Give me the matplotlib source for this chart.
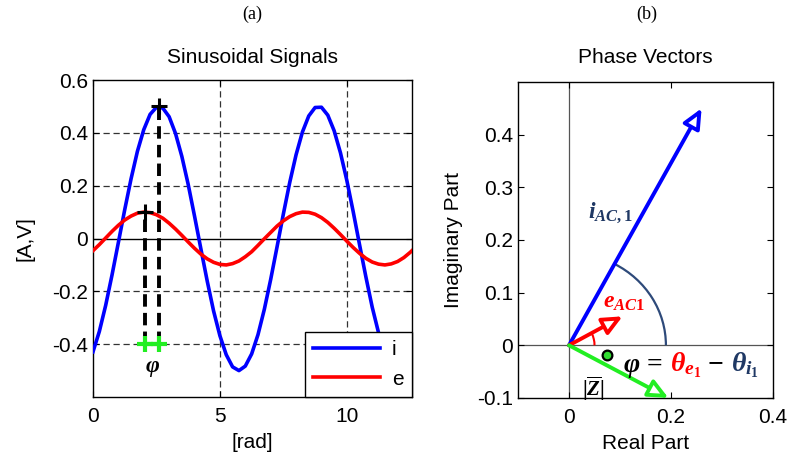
import numpy as np
import matplotlib
matplotlib.use("Agg")
import matplotlib.pyplot as plt
from matplotlib import transforms
from matplotlib.patches import Arc

plt.rcParams.update({
    "font.family": ["Liberation Sans", "DejaVu Sans"],
    "mathtext.fontset": "custom",
    "mathtext.it": "Liberation Serif:italic:bold",
    "mathtext.rm": "Liberation Serif:bold",
    "mathtext.bf": "Liberation Serif:bold",
})

# ---------------- data ----------------
x_rad = [0.0, 0.25, 0.5, 0.75, 1.0, 1.25, 1.5, 1.75, 2.0, 2.25, 2.5, 2.75,
         3.0, 3.25, 3.5, 3.75, 4.0, 4.25, 4.5, 4.75, 5.0, 5.25, 5.5, 5.75,
         6.0, 6.25, 6.5, 6.75, 7.0, 7.25, 7.5, 7.75, 8.0, 8.25, 8.5, 8.75,
         9.0, 9.25, 9.5, 9.75, 10.0, 10.25, 10.5, 10.75, 11.0, 11.25, 11.5,
         11.75, 12.0, 12.25, 12.5, 12.75]
i_vals = [-0.429, -0.352, -0.253, -0.138, -0.015, 0.109, 0.226, 0.330, 0.412,
          0.470, 0.497, 0.494, 0.461, 0.398, 0.311, 0.205, 0.085, -0.039,
          -0.161, -0.274, -0.368, -0.440, -0.486, -0.500, -0.483, -0.437,
          -0.364, -0.268, -0.155, -0.032, 0.093, 0.212, 0.317, 0.403, 0.464,
          0.496, 0.497, 0.467, 0.408, 0.324, 0.220, 0.102, -0.023, -0.145,
          -0.260, -0.357, -0.432, -0.481, -0.500, -0.487, -0.443, -0.373]
e_vals = [-0.046, -0.023, 0.002, 0.027, 0.050, 0.070, 0.085, 0.096, 0.100,
          0.098, 0.090, 0.077, 0.058, 0.036, 0.012, -0.013, -0.037, -0.059,
          -0.077, -0.090, -0.098, -0.100, -0.095, -0.085, -0.069, -0.050,
          -0.026, -0.001, 0.023, 0.047, 0.067, 0.083, 0.094, 0.100, 0.099,
          0.092, 0.079, 0.061, 0.039, 0.015, -0.010, -0.034, -0.056, -0.075,
          -0.089, -0.097, -0.100, -0.096, -0.087, -0.072, -0.052, -0.029]
series_labels = ["i", "e"]
e_peak = (2.05, 0.10)
i_peak = (2.60, 0.50)
phi_level = -0.4

left_xticks = [0, 5, 10]
left_yticks = [-0.4, -0.2, 0, 0.2, 0.4, 0.6]

# phasor tips (real, imag)
i_vec = (0.26, 0.45)
e_vec = (0.105, 0.055)
z_vec = (0.195, -0.10)
z_dot = (0.074, -0.019)
right_xticks = [0, 0.2, 0.4]
right_yticks = [-0.1, 0, 0.1, 0.2, 0.3, 0.4]

BLUE = "#0000FF"
RED = "#FF0000"
GREEN = "#22EE22"
NAVY = "#1F3864"
ARC = "#2E4A7A"

fig = plt.figure(figsize=(7.9, 4.61), dpi=100)
ax1 = fig.add_axes([0.1177, 0.1388, 0.4038, 0.6876])
ax2 = fig.add_axes([0.6557, 0.1367, 0.3228, 0.6855])

FS = 15

# ---------------- left panel ----------------
ax1.set_xlim(0, 4 * np.pi)
ax1.set_ylim(-0.6, 0.6)
for gx in [5, 10]:
    ax1.axvline(gx, color="#333333", lw=0.9, dashes=(5, 3), zorder=1)
for gy in [-0.4, -0.2, 0.2, 0.4]:
    ax1.axhline(gy, color="#333333", lw=0.9, dashes=(5, 3), zorder=1)
ax1.axhline(0, color="black", lw=1.0, zorder=1)

ax1.plot(x_rad, i_vals, color=BLUE, lw=2.6, label=series_labels[0], zorder=3)
ax1.plot(x_rad, e_vals, color=RED, lw=2.6, label=series_labels[1], zorder=3)

for px, py in [e_peak, i_peak]:
    ax1.plot([px, px], [phi_level, py], color="black", lw=2.8, dashes=(3.2, 1.6), zorder=4)
    ax1.plot([px], [py], marker="+", color="black", ms=12, mew=2.2, zorder=5)
ax1.plot([e_peak[0], i_peak[0]], [phi_level, phi_level], color=GREEN, lw=3,
         marker="+", ms=11, mew=3, zorder=5)
ax1.text((e_peak[0] + i_peak[0]) / 2, -0.49, r"$\varphi$", ha="center", va="center",
         fontsize=17, color="black")

ax1.set_xticks(left_xticks)
ax1.set_yticks(left_yticks)
ax1.set_yticklabels(["-0.4", "-0.2", "0", "0.2", "0.4", "0.6"])
ax1.tick_params(direction="in", top=True, right=True, labelsize=FS, length=4)
ax1.tick_params(axis="x", pad=7)
ax1.set_xlabel("[rad]", fontsize=FS, labelpad=5)
ax1.set_ylabel("[A,V]", fontsize=FS, labelpad=13)
ax1.set_title("Sinusoidal Signals", fontsize=FS, pad=12)
leg = ax1.legend(loc="lower right", fontsize=FS, frameon=True, fancybox=False,
                 edgecolor="black", framealpha=1, borderaxespad=0,
                 handlelength=3.2, handletextpad=0.6, borderpad=0.4,
                 labelspacing=0.5)
leg.get_frame().set_linewidth(1.0)
leg.set_zorder(10)

# ---------------- right panel ----------------
ax2.set_xlim(-0.1, 0.4)
ax2.set_ylim(-0.1, 0.5)
ax2.axvline(0, color="#555555", lw=0.9, zorder=1)
ax2.axhline(0, color="#555555", lw=0.9, zorder=1)

ang_i = np.degrees(np.arctan2(i_vec[1], i_vec[0]))
ang_e = np.degrees(np.arctan2(e_vec[1], e_vec[0]))
ax2.add_patch(Arc((0, 0), 0.38, 0.35, theta1=0, theta2=ang_i, color=ARC, lw=1.6, zorder=2))
ax2.add_patch(Arc((0, 0), 0.10, 0.10, theta1=0, theta2=ang_e, color=RED, lw=1.5, zorder=2))

for tip, col in [(i_vec, BLUE), (e_vec, RED), (z_vec, GREEN)]:
    ax2.annotate("", xy=tip, xytext=(0, 0),
                 arrowprops=dict(arrowstyle="-|>,head_length=0.7,head_width=0.32",
                                 color=col, fc="white", lw=2.8, mutation_scale=17,
                                 shrinkA=0, shrinkB=0), zorder=3)

ax2.plot([z_dot[0]], [z_dot[1]], "o", ms=7, mfc="#33DD33", mec="black", mew=1.6, zorder=4)

ax2.text(0.037, 0.252, r"$i_{AC,1}$", color=NAVY, fontsize=17, ha="left", va="center")
ax2.text(0.066, 0.082, r"$e_{AC1}$", color=RED, fontsize=17, ha="left", va="center")
ax2.text(0.047, -0.083, r"$|\overline{Z}|$", color="black", fontsize=15, ha="center", va="center")

# colored formula, chained piece by piece
fig.canvas.draw()
renderer = fig.canvas.get_renderer()
pieces = [(r"$\varphi$", "black"), (r" = ", "black"), (r"$\theta_{e_1}$", RED),
          (r" − ", "black"), (r"$\theta_{i_1}$", NAVY)]
trans = ax2.transData
xpos, ypos = 0.106, -0.05
for s, c in pieces:
    t = ax2.text(xpos, ypos, s, color=c, fontsize=20, ha="left", va="baseline",
                 transform=trans, family="Liberation Serif", fontweight="bold")
    ext = t.get_window_extent(renderer)
    trans = transforms.offset_copy(trans, x=ext.width, units="dots")

ax2.set_xticks(right_xticks)
ax2.set_xticklabels(["0", "0.2", "0.4"])
ax2.set_yticks(right_yticks)
ax2.set_yticklabels(["-0.1", "0", "0.1", "0.2", "0.3", "0.4"])
ax2.tick_params(direction="in", top=True, right=True, labelsize=FS, length=4)
ax2.tick_params(axis="x", pad=7)
ax2.set_xlabel("Real Part", fontsize=FS, labelpad=5)
ax2.set_ylabel("Imaginary Part", fontsize=FS, labelpad=10)
ax2.set_title("Phase Vectors", fontsize=FS, pad=14)

for ax in (ax1, ax2):
    for sp in ax.spines.values():
        sp.set_linewidth(1.0)

fig.text(252 / 790, 1 - 14 / 461, "(a)", ha="center", va="center",
         family="Liberation Serif", fontsize=13)
fig.text(647 / 790, 1 - 14 / 461, "(b)", ha="center", va="center",
         family="Liberation Serif", fontsize=13)

fig.savefig("out.png", dpi=100)
